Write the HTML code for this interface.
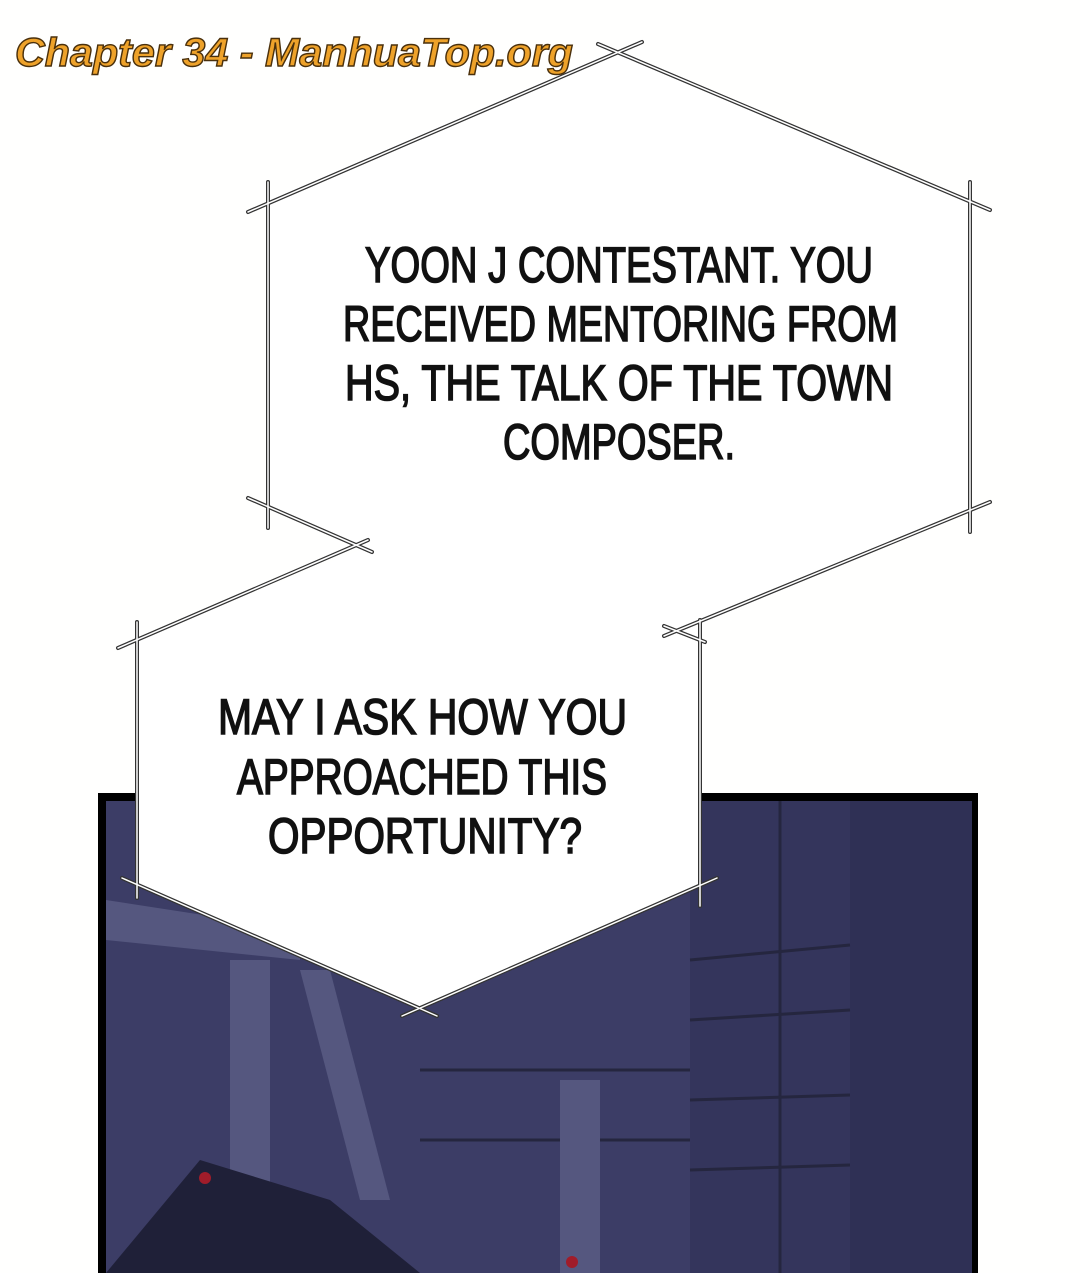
<!DOCTYPE html>
<html><head><meta charset="utf-8"><style>
html,body{margin:0;padding:0;background:#fff;}
svg{display:block}
</style></head><body>
<svg width="1080" height="1273" viewBox="0 0 1080 1273" xmlns="http://www.w3.org/2000/svg">
<rect width="1080" height="1273" fill="#fffffe"/>
<rect x="98" y="793" width="880" height="490" fill="#000"/>
<rect x="106" y="801" width="866" height="480" fill="#3c3d66"/>
<rect x="850" y="801" width="122" height="480" fill="#2f3055"/>
<rect x="690" y="801" width="160" height="480" fill="#34355c"/>
<g stroke="#25263f" stroke-width="3">
<line x1="780" y1="801" x2="780" y2="1273"/>
<line x1="690" y1="960" x2="850" y2="945"/>
<line x1="690" y1="1020" x2="850" y2="1010"/>
<line x1="690" y1="1100" x2="850" y2="1095"/>
<line x1="690" y1="1170" x2="850" y2="1165"/>
<line x1="420" y1="1070" x2="690" y2="1070"/>
<line x1="420" y1="1140" x2="690" y2="1140"/>
</g>
<g fill="#55577f">
<polygon points="106,900 300,930 300,960 106,940"/>
<polygon points="230,960 270,960 270,1273 230,1273"/>
<polygon points="560,1080 600,1080 600,1273 560,1273"/>
<polygon points="300,970 330,970 390,1200 360,1200"/>
</g>
<polygon points="106,1273 200,1160 330,1200 420,1273" fill="#1f2038"/>
<circle cx="205" cy="1178" r="6" fill="#a01c2a"/>
<circle cx="572" cy="1262" r="6" fill="#a01c2a"/>
<polygon points="615,48 970,200 970,510 700,625 700,885 420,1008 137,885 137,640 365,548 268,508 268,200" fill="#fff"/>
<g stroke-linecap="round">
<g stroke="#333" stroke-width="4">
<line x1="248" y1="212" x2="642" y2="42"/>
<line x1="598" y1="44" x2="990" y2="210"/>
<line x1="970" y1="182" x2="970" y2="532"/>
<line x1="268" y1="182" x2="268" y2="528"/>
<line x1="248" y1="498" x2="372" y2="552"/>
<line x1="990" y1="502" x2="664" y2="636"/>
<line x1="368" y1="540" x2="118" y2="648"/>
<line x1="137" y1="622" x2="137" y2="898"/>
<line x1="700" y1="620" x2="700" y2="906"/>
<line x1="664" y1="626" x2="705" y2="642"/>
<line x1="122" y1="878" x2="437" y2="1016"/>
<line x1="402" y1="1016" x2="717" y2="878"/>
</g>
<g stroke="#fff" stroke-width="1.5">
<line x1="248" y1="212" x2="642" y2="42"/>
<line x1="598" y1="44" x2="990" y2="210"/>
<line x1="970" y1="182" x2="970" y2="532"/>
<line x1="268" y1="182" x2="268" y2="528"/>
<line x1="248" y1="498" x2="372" y2="552"/>
<line x1="990" y1="502" x2="664" y2="636"/>
<line x1="368" y1="540" x2="118" y2="648"/>
<line x1="137" y1="622" x2="137" y2="898"/>
<line x1="700" y1="620" x2="700" y2="906"/>
<line x1="664" y1="626" x2="705" y2="642"/>
<line x1="122" y1="878" x2="437" y2="1016"/>
<line x1="402" y1="1016" x2="717" y2="878"/>
</g>
</g>
<g font-family="'Liberation Sans Narrow','Liberation Sans',sans-serif" font-size="50" fill="#111" stroke="#111" stroke-width="1.6">
<text x="365" y="282" textLength="508" lengthAdjust="spacingAndGlyphs">YOON J CONTESTANT. YOU</text>
<text x="343" y="341" textLength="555" lengthAdjust="spacingAndGlyphs">RECEIVED MENTORING FROM</text>
<text x="345" y="400" textLength="548" lengthAdjust="spacingAndGlyphs">HS, THE TALK OF THE TOWN</text>
<text x="503" y="459" textLength="232" lengthAdjust="spacingAndGlyphs">COMPOSER.</text>
<text x="218" y="734" textLength="409" lengthAdjust="spacingAndGlyphs">MAY I ASK HOW YOU</text>
<text x="237" y="794" textLength="370" lengthAdjust="spacingAndGlyphs">APPROACHED THIS</text>
<text x="268" y="853" textLength="314" lengthAdjust="spacingAndGlyphs">OPPORTUNITY?</text>
</g>
<text x="15" y="66" textLength="558" lengthAdjust="spacingAndGlyphs" font-family="'Liberation Sans',sans-serif" font-weight="bold" font-style="italic" font-size="40" fill="#eea22a" stroke="#4a300c" stroke-width="1.4">Chapter 34 - ManhuaTop.org</text>
</svg>
</body></html>
